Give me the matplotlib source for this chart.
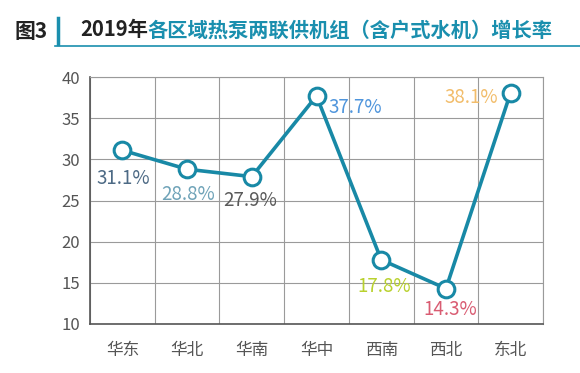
import matplotlib.pyplot as plt
from matplotlib.lines import Line2D

plt.rcParams['font.family'] = ['Noto Sans CJK SC', 'DejaVu Sans']

regions = ["华东", "华北", "华南", "华中", "西南", "西北", "东北"]
growth = [31.1, 28.8, 27.9, 37.7, 17.8, 14.3, 38.1]
label_colors = ["#4d6a85", "#6fa3b8", "#5a5a5a", "#4f95dc", "#b9d12e", "#d95c72", "#f2bd6b"]
# label offsets in pixels (dx, dy) from each point
label_offsets = [(1, -28), (1, -25), (-2, -24), (39, -12), (3, -27), (4, -21), (-39, -5)]

fig = plt.figure(figsize=(5.8, 3.73), dpi=100)
ax = fig.add_axes([90 / 580, 1 - 324 / 373, 453 / 580, 247 / 373])

x = list(range(len(regions)))
ax.plot(x, growth, color="#1889a6", linewidth=2.6, marker="o", markersize=12,
        markerfacecolor="white", markeredgecolor="#1889a6", markeredgewidth=2.2,
        zorder=3, clip_on=False)

for i, v in enumerate(growth):
    dx, dy = label_offsets[i]
    ax.annotate(f"{v}%", (i, v), xytext=(dx * 0.72, dy * 0.72), textcoords="offset points",
                ha="center", va="center", fontsize=13.5, fontweight="light",
                color=label_colors[i])

ax.set_xlim(-0.5, len(regions) - 0.5)
ax.set_ylim(10, 40)
ax.set_yticks(range(10, 41, 5))
ax.set_xticks(x)
ax.set_xticklabels(regions)
ax.set_xticks([i + 0.5 for i in range(-1, len(regions))], minor=True)
ax.grid(which="minor", axis="x", color="#9a9a9a", linewidth=0.8)
ax.grid(which="major", axis="y", color="#9a9a9a", linewidth=0.8)
ax.tick_params(which="both", length=0)
ax.tick_params(axis="both", labelsize=12, labelcolor="#555555")
for lbl in ax.get_xticklabels() + ax.get_yticklabels():
    lbl.set_fontweight("light")
ax.tick_params(axis="x", pad=13)
ax.tick_params(axis="y", pad=7)
for side in ["top", "right"]:
    ax.spines[side].set_color("#9a9a9a")
    ax.spines[side].set_linewidth(0.8)
for side in ["left", "bottom"]:
    ax.spines[side].set_color("#555555")
    ax.spines[side].set_linewidth(1.2)
ax.set_axisbelow(True)

# title block
fig.text(15 / 580, 1 - 31 / 373, "图3", fontsize=15, fontweight="bold", color="#222222",
         va="center", ha="left")
fig.add_artist(Line2D([58 / 580, 58 / 580], [1 - 18 / 373, 1 - 44 / 373],
                      color="#1a8fae", linewidth=2.5))
fig.add_artist(Line2D([55 / 580, 1.0], [1 - 45.5 / 373, 1 - 45.5 / 373],
                      color="#1a8fae", linewidth=1.2))
t1 = fig.text(80 / 580, 1 - 30 / 373, "2019年", fontsize=14.6, fontweight="bold",
              color="#222222", va="center", ha="left")
fig.canvas.draw()
bb = t1.get_window_extent()
fig.text(bb.x1 / 580, 1 - 30 / 373, "各区域热泵两联供机组（含户式水机）增长率", fontsize=14.6,
         fontweight="bold", color="#1a8fae", va="center", ha="left")

fig.savefig("out.png", dpi=100)
